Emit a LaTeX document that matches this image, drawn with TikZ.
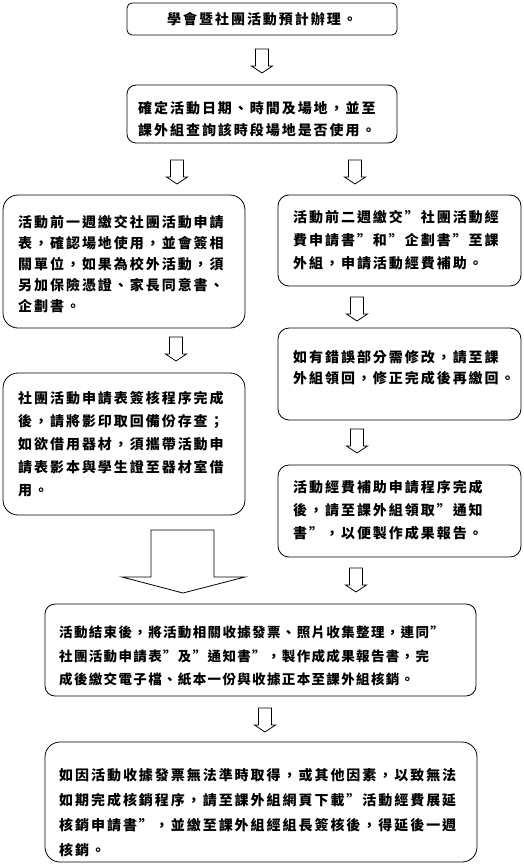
\documentclass[tikz,border=0pt]{standalone}
\usepackage{fontspec}
\newfontfamily\cjk[LetterSpace=14]{Noto Sans CJK TC}
\newfontfamily\cjkn[LetterSpace=10]{Noto Sans CJK TC}
\newcommand\smallblockarrow[2]{%
  \draw[arr] (#1-6.5,#2) -- (#1-6.5,#2+17) -- (#1-10.5,#2+17) -- (#1,#2+24)
     -- (#1+10.5,#2+17) -- (#1+6.5,#2+17) -- (#1+6.5,#2) -- cycle;}
\begin{document}
\begin{tikzpicture}[x=1pt,y=-1pt,
  box/.style={draw, line width=0.8pt, inner sep=0pt, rectangle},
  txt/.style={inner sep=0pt, anchor=north west, align=left},
  arr/.style={draw, line width=0.8pt, line join=miter}]
\useasboundingbox (0,0) rectangle (524,865);
% boxes
\node[box, rounded corners=5pt, minimum width=270pt, minimum height=32pt] (b1) at (262,19) {};
\node[box, rounded corners=9pt, minimum width=270pt, minimum height=58pt] (b2) at (262,114) {};
\node[box, rounded corners=15pt, minimum width=242pt, minimum height=133pt] (b3) at (124,261.5) {};
\node[box, rounded corners=15pt, minimum width=242pt, minimum height=142pt] (b4) at (124,444) {};
\node[box, rounded corners=11pt, minimum width=243pt, minimum height=91pt] (b5) at (399.5,240.5) {};
\node[box, rounded corners=11pt, minimum width=243pt, minimum height=92pt] (b6) at (399.5,374) {};
\node[box, rounded corners=11pt, minimum width=243pt, minimum height=92pt] (b7) at (399.5,511) {};
\node[box, rounded corners=10pt, minimum width=431pt, minimum height=92pt] (b8) at (260.5,650) {};
\node[box, rounded corners=15pt, minimum width=432pt, minimum height=120pt] (b9) at (261,802) {};
% texts
\node[inner sep=0pt, font={\cjk\bfseries\fontsize{14}{22}\selectfont}] (t1) at (b1.center) {學會暨社團活動預計辦理。};
\node[txt, font={\cjk\bfseries\fontsize{14}{22}\selectfont}] (t2) at (138,101) {確定活動日期、時間及場地，並至\\課外組查詢該時段場地是否使用。};
\node[txt, font={\cjk\bfseries\fontsize{14}{21}\selectfont}] (t3) at (18,215) {活動前一週繳交社團活動申請\\表，確認場地使用，並會簽相\\關單位，如果為校外活動，須\\另加保險憑證、家長同意書、\\企劃書。};
\node[txt, font={\cjk\bfseries\fontsize{14}{23}\selectfont}] (t4) at (18,391) {社團活動申請表簽核程序完成\\後，請將影印取回備份存查；\\如欲借用器材，須攜帶活動申\\請表影本與學生證至器材室借\\用。};
\node[txt, font={\cjk\bfseries\fontsize{14}{23}\selectfont}] (t5) at (293,210) {活動前二週繳交”社團活動經\\費申請書”和”企劃書”至課\\外組，申請活動經費補助。};
\node[txt, font={\cjk\bfseries\fontsize{14}{21}\selectfont}] (t6) at (293,350) {如有錯誤部分需修改，請至課\\外組領回，修正完成後再繳回。};
\node[txt, font={\cjk\bfseries\fontsize{14}{23}\selectfont}] (t7) at (293,480) {活動經費補助申請程序完成\\後，請至課外組領取”通知\\書”，以便製作成果報告。};
\node[txt, font={\cjkn\bfseries\fontsize{13.5}{23.5}\selectfont}] (t8) at (59,626) {活動結束後，將活動相關收據發票、照片收集整理，連同”\\社團活動申請表”及”通知書”，製作成成果報告書，完\\成後繳交電子檔、紙本一份與收據正本至課外組核銷。};
\node[txt, font={\cjk\bfseries\fontsize{14}{25}\selectfont}] (t9) at (59,768) {如因活動收據發票無法準時取得，或其他因素，以致無法\\如期完成核銷程序，請至課外組網頁下載”活動經費展延\\核銷申請書”，並繳至課外組經組長簽核後，得延後一週\\核銷。};
% block arrows
\smallblockarrow{262}{49}
\smallblockarrow{177}{160}
\smallblockarrow{355}{160}
\smallblockarrow{176}{337}
\smallblockarrow{357}{297}
\smallblockarrow{357}{429}
\smallblockarrow{356}{568}
\smallblockarrow{265}{708}
\draw[arr] (151,530) -- (151,577) -- (122,577) -- (183,593) -- (245,577) -- (214,577) -- (214,530) -- cycle;
\end{tikzpicture}
\end{document}
